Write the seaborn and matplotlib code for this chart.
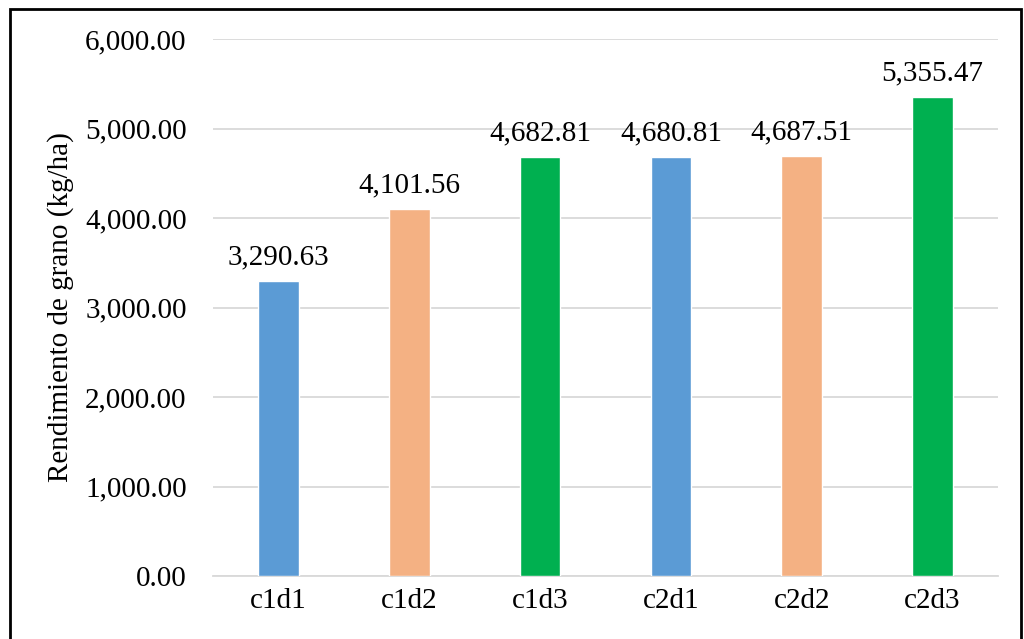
import matplotlib
matplotlib.use("Agg")
import matplotlib.pyplot as plt
import seaborn as sns
import pandas as pd
from matplotlib.patches import Rectangle

categories = ["c1d1", "c1d2", "c1d3", "c2d1", "c2d2", "c2d3"]
values = [3290.63, 4101.56, 4682.81, 4680.81, 4687.51, 5355.47]
colors = ["#5B9BD5", "#F4B183", "#00B050", "#5B9BD5", "#F4B183", "#00B050"]
yticks = [0, 1000, 2000, 3000, 4000, 5000, 6000]

sns.set_theme(style="white")
plt.rcParams['font.family'] = ['Liberation Serif', 'DejaVu Serif']

FS = 21

df = pd.DataFrame({"cat": categories, "val": values})

fig = plt.figure(figsize=(10.24, 6.39), dpi=100)
ax = fig.add_axes([213/1024, 1 - 576/639, (998-213)/1024, (576-39)/639])

sns.barplot(data=df, x="cat", y="val", hue="cat", palette=colors, legend=False,
            width=0.31, ax=ax, saturation=1, zorder=3)

ax.set_ylim(0, 6000)
ax.set_xlim(-0.5, len(categories) - 0.5)
ax.set_yticks(yticks)
ax.set_yticklabels([f"{v:,.2f}" for v in yticks], fontsize=FS, color='black')
ax.set_xticks(range(len(categories)))
ax.set_xticklabels(categories, fontsize=FS, color='black')
ax.tick_params(axis='x', length=0, pad=9)
ax.tick_params(axis='y', length=0, pad=19)
ax.grid(axis='y', color='#D9D9D9', linewidth=1.3, zorder=0)
ax.set_axisbelow(True)
for s in ["top", "right", "left"]:
    ax.spines[s].set_visible(False)
ax.spines["bottom"].set_color('#D9D9D9')
ax.spines["bottom"].set_linewidth(1.3)
ax.set_xlabel("")
ax.set_ylabel("Rendimiento de grano (kg/ha)", fontsize=FS, labelpad=8, color='black')

for p, v in zip(ax.patches, values):
    ax.annotate(f"{v:,.2f}", (p.get_x() + p.get_width() / 2, p.get_height()),
                xytext=(0, 12), textcoords="offset points", ha="center", va="baseline",
                fontsize=FS, color='black')

fig.patches.append(Rectangle((10/1024, -0.05), (1021-10)/1024, 1 - 9/639 + 0.05,
                             transform=fig.transFigure, fill=False,
                             edgecolor='black', linewidth=2))

fig.savefig("out.png", dpi=100)
